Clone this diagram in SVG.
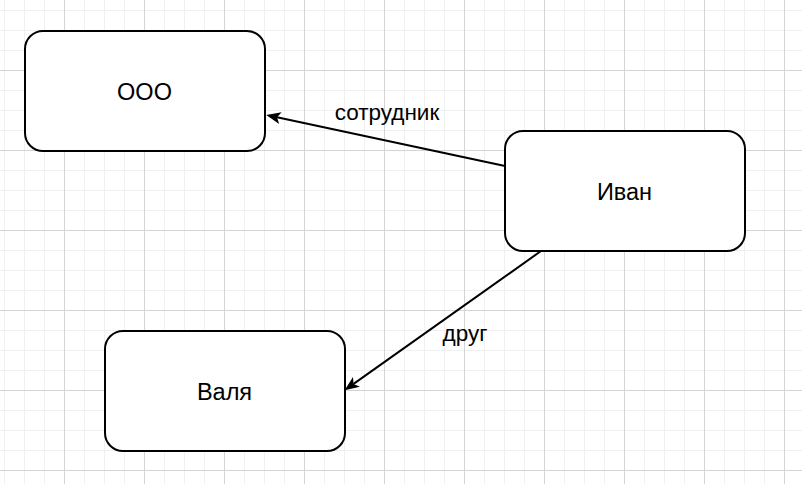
<svg xmlns="http://www.w3.org/2000/svg" width="802" height="484" viewBox="0 0 802 484">
<style>
.node rect{fill:#ffffff;stroke:#000000;stroke-width:2}
.node text{font-family:"Liberation Sans",Arial,sans-serif;font-size:23.5px;fill:#000;text-anchor:middle}
.edge{fill:none;stroke:#000;stroke-width:2}
.lbl{font-family:"Liberation Sans",Arial,sans-serif;font-size:22.5px;fill:#000;text-anchor:middle}
</style>
<defs>
<pattern id="minor" patternUnits="userSpaceOnUse" x="4" y="10" width="20" height="20">
<path d="M0.5,0V20M0,0.5H20" stroke="#f0f0f0" stroke-width="1" fill="none"/>
</pattern>
<pattern id="major" patternUnits="userSpaceOnUse" x="64" y="70" width="80" height="80">
<path d="M0.5,0V80M0,0.5H80" stroke="#d4d4d4" stroke-width="1" fill="none"/>
</pattern>
<marker id="arr" markerUnits="userSpaceOnUse" markerWidth="15" markerHeight="13" viewBox="0 0 15 13" refX="3.5" refY="6.5" orient="auto">
<path d="M0,0.5 L14.5,6.5 L0,12.5 L3.5,6.5 Z" fill="#000"/>
</marker>
</defs>
<rect width="802" height="484" fill="#ffffff"/>
<rect width="802" height="484" fill="url(#minor)"/>
<rect width="802" height="484" fill="url(#major)"/>
<g id="connectors">
<path class="edge" d="M505,166 L277,117.3" marker-end="url(#arr)"/>
<text class="lbl" x="387" y="120">сотрудник</text>
<path class="edge" d="M541,251 L353.6,383.9" marker-end="url(#arr)"/>
<text class="lbl" x="465" y="341">друг</text>
</g>
<g id="node-ooo" class="node">
<rect x="25" y="31" width="240" height="120" rx="18" ry="18"/>
<text x="144.5" y="99.5">ООО</text>
</g>
<g id="node-ivan" class="node">
<rect x="505" y="131" width="240" height="120" rx="18" ry="18"/>
<text x="624.5" y="199.5">Иван</text>
</g>
<g id="node-valya" class="node">
<rect x="105" y="331" width="240" height="120" rx="18" ry="18"/>
<text x="224.5" y="399.5">Валя</text>
</g>
</svg>
